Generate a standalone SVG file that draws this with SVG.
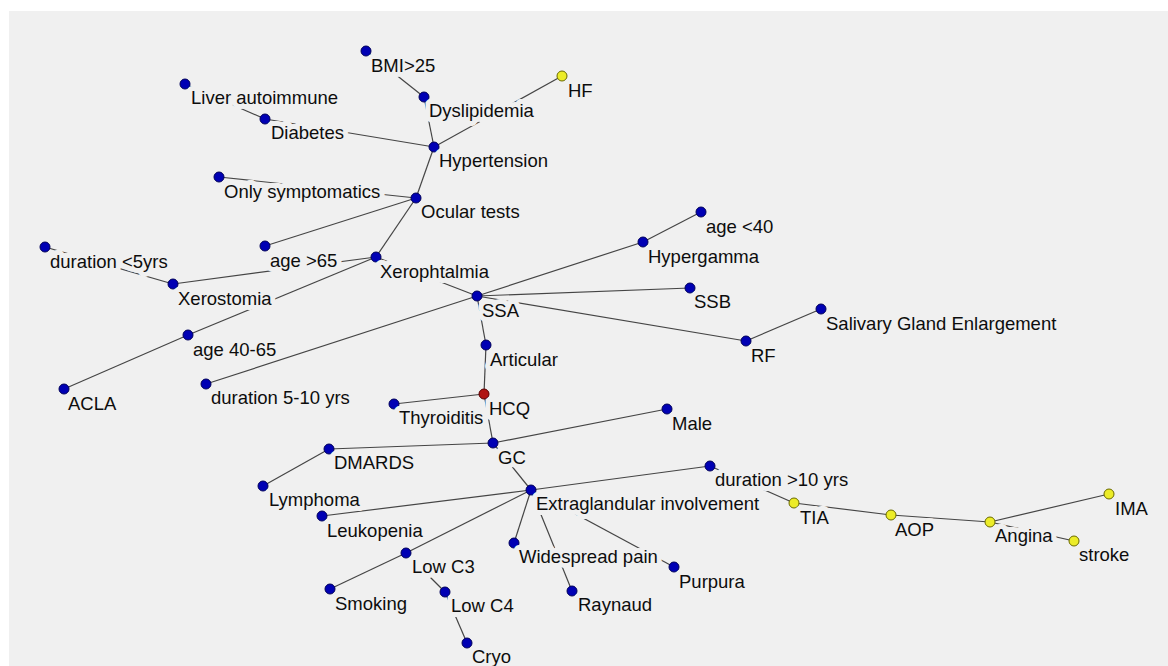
<svg xmlns="http://www.w3.org/2000/svg" width="1168" height="666" viewBox="0 0 1168 666">
<style>
.bg{fill:#f0f0f0}
.e line{stroke:#454545;stroke-width:1.2}
.b{fill:#0000b4;stroke:#00005a;stroke-width:1}
.r{fill:#b01414;stroke:#580000;stroke-width:1}
.y{fill:#ecec28;stroke:#6a6a00;stroke-width:1}
text{font-family:"Liberation Sans",Arial,sans-serif;font-size:18.5px;fill:#0d0d0d;stroke:#f0f0f0;stroke-width:10;stroke-linejoin:round;paint-order:stroke}
</style>
<rect width="1168" height="666" fill="#ffffff"/>
<rect class="bg" x="9" y="11" width="1159" height="655"/>
<g id="edges" class="e">
<line x1="366" y1="51" x2="424" y2="97"/>
<line x1="185" y1="84" x2="265" y2="119"/>
<line x1="265" y1="119" x2="434" y2="147"/>
<line x1="424" y1="97" x2="434" y2="147"/>
<line x1="562" y1="76" x2="434" y2="147"/>
<line x1="434" y1="147" x2="416" y2="198"/>
<line x1="219" y1="177" x2="416" y2="198"/>
<line x1="265" y1="246" x2="416" y2="198"/>
<line x1="416" y1="198" x2="376" y2="257"/>
<line x1="173" y1="284" x2="376" y2="257"/>
<line x1="45" y1="247" x2="173" y2="284"/>
<line x1="188" y1="335" x2="376" y2="257"/>
<line x1="64" y1="389" x2="188" y2="335"/>
<line x1="376" y1="257" x2="477" y2="296"/>
<line x1="477" y1="296" x2="206" y2="384"/>
<line x1="477" y1="296" x2="643" y2="242"/>
<line x1="643" y1="242" x2="701" y2="212"/>
<line x1="477" y1="296" x2="690" y2="288"/>
<line x1="477" y1="296" x2="746" y2="341"/>
<line x1="746" y1="341" x2="821" y2="309"/>
<line x1="477" y1="296" x2="486" y2="345"/>
<line x1="486" y1="345" x2="484" y2="394"/>
<line x1="484" y1="394" x2="394" y2="404"/>
<line x1="484" y1="394" x2="493" y2="443"/>
<line x1="493" y1="443" x2="667" y2="409"/>
<line x1="493" y1="443" x2="329" y2="449"/>
<line x1="329" y1="449" x2="263" y2="486"/>
<line x1="493" y1="443" x2="531" y2="490"/>
<line x1="531" y1="490" x2="710" y2="466"/>
<line x1="710" y1="466" x2="794" y2="503"/>
<line x1="794" y1="503" x2="891" y2="515"/>
<line x1="891" y1="515" x2="990" y2="522"/>
<line x1="990" y1="522" x2="1109" y2="494"/>
<line x1="990" y1="522" x2="1074" y2="541"/>
<line x1="531" y1="490" x2="322" y2="516"/>
<line x1="531" y1="490" x2="406" y2="553"/>
<line x1="406" y1="553" x2="330" y2="589"/>
<line x1="406" y1="553" x2="445" y2="592"/>
<line x1="445" y1="592" x2="467" y2="643"/>
<line x1="531" y1="490" x2="514" y2="543"/>
<line x1="531" y1="490" x2="572" y2="591"/>
<line x1="531" y1="490" x2="674" y2="567"/>
</g>
<g id="n-bmi"><circle class="b" cx="366" cy="51" r="5"/><text x="371" y="72">BMI&gt;25</text></g>
<g id="n-liver"><circle class="b" cx="185" cy="84" r="5"/><text x="191" y="104">Liver autoimmune</text></g>
<g id="n-dyslipidemia"><circle class="b" cx="424" cy="97" r="5"/><text x="429" y="117">Dyslipidemia</text></g>
<g id="n-hf"><circle class="y" cx="562" cy="76" r="5"/><text x="568" y="97">HF</text></g>
<g id="n-diabetes"><circle class="b" cx="265" cy="119" r="5"/><text x="271" y="139">Diabetes</text></g>
<g id="n-hypertension"><circle class="b" cx="434" cy="147" r="5"/><text x="439" y="167">Hypertension</text></g>
<g id="n-onlysym"><circle class="b" cx="219" cy="177" r="5"/><text x="224" y="198">Only symptomatics</text></g>
<g id="n-ocular"><circle class="b" cx="416" cy="198" r="5"/><text x="421" y="218">Ocular tests</text></g>
<g id="n-age65"><circle class="b" cx="265" cy="246" r="5"/><text x="270" y="267">age &gt;65</text></g>
<g id="n-dur5"><circle class="b" cx="45" cy="247" r="5"/><text x="50" y="268">duration &lt;5yrs</text></g>
<g id="n-xerophtalmia"><circle class="b" cx="376" cy="257" r="5"/><text x="380" y="278">Xerophtalmia</text></g>
<g id="n-xerostomia"><circle class="b" cx="173" cy="284" r="5"/><text x="178" y="305">Xerostomia</text></g>
<g id="n-age4065"><circle class="b" cx="188" cy="335" r="5"/><text x="193" y="356">age 40-65</text></g>
<g id="n-acla"><circle class="b" cx="64" cy="389" r="5"/><text x="68" y="410">ACLA</text></g>
<g id="n-dur510"><circle class="b" cx="206" cy="384" r="5"/><text x="211" y="404">duration 5-10 yrs</text></g>
<g id="n-ssa"><circle class="b" cx="477" cy="296" r="5"/><text x="482" y="317">SSA</text></g>
<g id="n-age40"><circle class="b" cx="701" cy="212" r="5"/><text x="706" y="233">age &lt;40</text></g>
<g id="n-hypergamma"><circle class="b" cx="643" cy="242" r="5"/><text x="648" y="263">Hypergamma</text></g>
<g id="n-ssb"><circle class="b" cx="690" cy="288" r="5"/><text x="694" y="308">SSB</text></g>
<g id="n-rf"><circle class="b" cx="746" cy="341" r="5"/><text x="751" y="362">RF</text></g>
<g id="n-salivary"><circle class="b" cx="821" cy="309" r="5"/><text x="826" y="330">Salivary Gland Enlargement</text></g>
<g id="n-articular"><circle class="b" cx="486" cy="345" r="5"/><text x="490" y="366">Articular</text></g>
<g id="n-hcq"><circle class="r" cx="484" cy="394" r="5"/><text x="489" y="415">HCQ</text></g>
<g id="n-thyroiditis"><circle class="b" cx="394" cy="404" r="5"/><text x="399" y="424">Thyroiditis</text></g>
<g id="n-male"><circle class="b" cx="667" cy="409" r="5"/><text x="672" y="430">Male</text></g>
<g id="n-gc"><circle class="b" cx="493" cy="443" r="5"/><text x="498" y="464">GC</text></g>
<g id="n-dmards"><circle class="b" cx="329" cy="449" r="5"/><text x="334" y="469">DMARDS</text></g>
<g id="n-lymphoma"><circle class="b" cx="263" cy="486" r="5"/><text x="269" y="506">Lymphoma</text></g>
<g id="n-leukopenia"><circle class="b" cx="322" cy="516" r="5"/><text x="327" y="537">Leukopenia</text></g>
<g id="n-extra"><circle class="b" cx="531" cy="490" r="5"/><text x="536" y="510">Extraglandular involvement</text></g>
<g id="n-dur10"><circle class="b" cx="710" cy="466" r="5"/><text x="715" y="486">duration &gt;10 yrs</text></g>
<g id="n-tia"><circle class="y" cx="794" cy="503" r="5"/><text x="800" y="524">TIA</text></g>
<g id="n-aop"><circle class="y" cx="891" cy="515" r="5"/><text x="895" y="536">AOP</text></g>
<g id="n-angina"><circle class="y" cx="990" cy="522" r="5"/><text x="995" y="542">Angina</text></g>
<g id="n-ima"><circle class="y" cx="1109" cy="494" r="5"/><text x="1115" y="515">IMA</text></g>
<g id="n-stroke"><circle class="y" cx="1074" cy="541" r="5"/><text x="1079" y="561">stroke</text></g>
<g id="n-lowc3"><circle class="b" cx="406" cy="553" r="5"/><text x="412" y="573">Low C3</text></g>
<g id="n-smoking"><circle class="b" cx="330" cy="589" r="5"/><text x="335" y="610">Smoking</text></g>
<g id="n-lowc4"><circle class="b" cx="445" cy="592" r="5"/><text x="451" y="612">Low C4</text></g>
<g id="n-cryo"><circle class="b" cx="467" cy="643" r="5"/><text x="472" y="663">Cryo</text></g>
<g id="n-widespread"><circle class="b" cx="514" cy="543" r="5"/><text x="519" y="563">Widespread pain</text></g>
<g id="n-raynaud"><circle class="b" cx="572" cy="591" r="5"/><text x="578" y="611">Raynaud</text></g>
<g id="n-purpura"><circle class="b" cx="674" cy="567" r="5"/><text x="679" y="588">Purpura</text></g>
</svg>
